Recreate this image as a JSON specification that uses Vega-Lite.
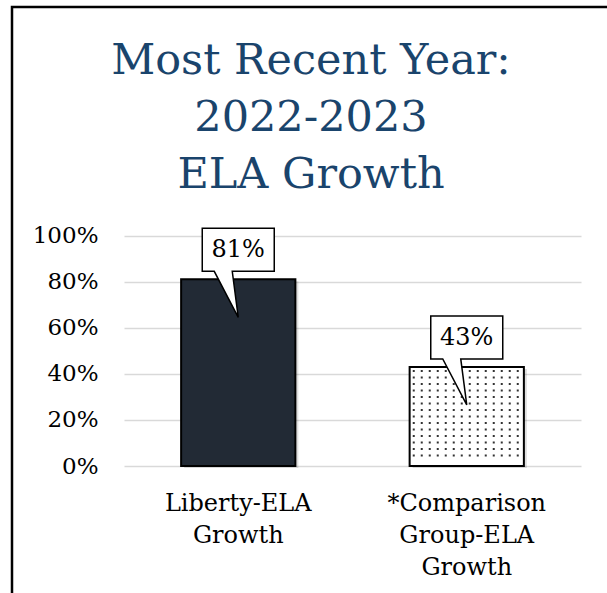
{
  "$schema": "https://vega.github.io/schema/vega-lite/v6.json",
  "autosize": {"type": "none"},
  "padding": {"left": 12, "top": 7, "right": -45, "bottom": -40},
  "width": 640,
  "height": 626,
  "background": "white",
  "view": {"stroke": "black", "strokeWidth": 2.5},
  "config": {
    "font": "DejaVu Serif"
  },
  "title": {
    "text": ["Most Recent Year:", "2022-2023", "ELA Growth"],
    "font": "DejaVu Serif",
    "fontSize": 43,
    "fontWeight": "normal",
    "color": "#1A446C",
    "lineHeight": 57,
    "anchor": "middle",
    "frame": "group",
    "dx": -21,
    "offset": -190
  },
  "data": {
    "values": [
      {"cat": "Liberty-ELA|Growth", "value": 0.81, "label": "81%"},
      {"cat": "*Comparison|Group-ELA|Growth", "value": 0.43, "label": "43%"}
    ]
  },
  "encoding": {
    "x": {
      "field": "cat", "type": "nominal", "sort": null,
      "scale": {"domain": ["Liberty-ELA|Growth", "*Comparison|Group-ELA|Growth"], "range": [112, 569], "paddingInner": 0.5, "paddingOuter": 0.25},
      "axis": {
        "title": null, "orient": "bottom", "offset": -167, "labelAngle": 0,
        "domain": false, "ticks": false, "tickSize": 0, "grid": false,
        "labelExpr": "split(datum.label, '|')",
        "labelFont": "DejaVu Serif", "labelFontSize": 24, "labelColor": "black",
        "labelLineHeight": 32, "labelPadding": 25, "labelBaseline": "top"
      }
    },
    "y": {
      "field": "value", "type": "quantitative",
      "scale": {"domain": [0, 1], "range": [459, 228.5], "nice": false, "zero": true},
      "axis": {
        "title": null, "orient": "left", "format": ".0%", "values": [0, 0.2, 0.4, 0.6, 0.8, 1],
        "domain": false, "ticks": false, "tickSize": 0,
        "grid": true, "gridColor": "#d9d9d9", "gridWidth": 1.5,
        "labelFont": "DejaVu Serif", "labelFontSize": 23, "labelColor": "black",
        "labelPadding": -86, "labelAlign": "right"
      }
    }
  },
  "layer": [
    {
      "mark": {"type": "bar", "fill": "#000000", "opacity": 0.13, "xOffset": 3, "yOffset": 2, "strokeWidth": 0}
    },
    {
      "mark": {"type": "bar", "stroke": "black", "strokeWidth": 2},
      "encoding": {
        "color": {
          "field": "cat", "type": "nominal",
          "scale": {"domain": ["Liberty-ELA|Growth", "*Comparison|Group-ELA|Growth"], "range": ["#222A35", "#FFFFFF"]},
          "legend": null
        }
      }
    },
    {
      "transform": [{"filter": "datum.value < 0.5"}],
      "mark": {
        "type": "point", "filled": true, "fill": "#333333", "strokeWidth": 0, "opacity": 1, "size": 4,
        "shape": "M-54,3h2v2h-2v-2m8,0h2v2h-2v-2m8,0h2v2h-2v-2m8,0h2v2h-2v-2m8,0h2v2h-2v-2m8,0h2v2h-2v-2m8,0h2v2h-2v-2m8,0h2v2h-2v-2m8,0h2v2h-2v-2m8,0h2v2h-2v-2m8,0h2v2h-2v-2m8,0h2v2h-2v-2m8,0h2v2h-2v-2m8,0h2v2h-2v-2m-104,6.5h2v2h-2v-2m8,0h2v2h-2v-2m8,0h2v2h-2v-2m8,0h2v2h-2v-2m8,0h2v2h-2v-2m8,0h2v2h-2v-2m8,0h2v2h-2v-2m8,0h2v2h-2v-2m8,0h2v2h-2v-2m8,0h2v2h-2v-2m8,0h2v2h-2v-2m8,0h2v2h-2v-2m8,0h2v2h-2v-2m8,0h2v2h-2v-2m-104,6.5h2v2h-2v-2m8,0h2v2h-2v-2m8,0h2v2h-2v-2m8,0h2v2h-2v-2m8,0h2v2h-2v-2m8,0h2v2h-2v-2m8,0h2v2h-2v-2m8,0h2v2h-2v-2m8,0h2v2h-2v-2m8,0h2v2h-2v-2m8,0h2v2h-2v-2m8,0h2v2h-2v-2m8,0h2v2h-2v-2m8,0h2v2h-2v-2m-104,6.5h2v2h-2v-2m8,0h2v2h-2v-2m8,0h2v2h-2v-2m8,0h2v2h-2v-2m8,0h2v2h-2v-2m8,0h2v2h-2v-2m8,0h2v2h-2v-2m8,0h2v2h-2v-2m8,0h2v2h-2v-2m8,0h2v2h-2v-2m8,0h2v2h-2v-2m8,0h2v2h-2v-2m8,0h2v2h-2v-2m8,0h2v2h-2v-2m-104,6.5h2v2h-2v-2m8,0h2v2h-2v-2m8,0h2v2h-2v-2m8,0h2v2h-2v-2m8,0h2v2h-2v-2m8,0h2v2h-2v-2m8,0h2v2h-2v-2m8,0h2v2h-2v-2m8,0h2v2h-2v-2m8,0h2v2h-2v-2m8,0h2v2h-2v-2m8,0h2v2h-2v-2m8,0h2v2h-2v-2m8,0h2v2h-2v-2m-104,6.5h2v2h-2v-2m8,0h2v2h-2v-2m8,0h2v2h-2v-2m8,0h2v2h-2v-2m8,0h2v2h-2v-2m8,0h2v2h-2v-2m8,0h2v2h-2v-2m8,0h2v2h-2v-2m8,0h2v2h-2v-2m8,0h2v2h-2v-2m8,0h2v2h-2v-2m8,0h2v2h-2v-2m8,0h2v2h-2v-2m8,0h2v2h-2v-2m-104,6.5h2v2h-2v-2m8,0h2v2h-2v-2m8,0h2v2h-2v-2m8,0h2v2h-2v-2m8,0h2v2h-2v-2m8,0h2v2h-2v-2m8,0h2v2h-2v-2m8,0h2v2h-2v-2m8,0h2v2h-2v-2m8,0h2v2h-2v-2m8,0h2v2h-2v-2m8,0h2v2h-2v-2m8,0h2v2h-2v-2m8,0h2v2h-2v-2m-104,6.5h2v2h-2v-2m8,0h2v2h-2v-2m8,0h2v2h-2v-2m8,0h2v2h-2v-2m8,0h2v2h-2v-2m8,0h2v2h-2v-2m8,0h2v2h-2v-2m8,0h2v2h-2v-2m8,0h2v2h-2v-2m8,0h2v2h-2v-2m8,0h2v2h-2v-2m8,0h2v2h-2v-2m8,0h2v2h-2v-2m8,0h2v2h-2v-2m-104,6.5h2v2h-2v-2m8,0h2v2h-2v-2m8,0h2v2h-2v-2m8,0h2v2h-2v-2m8,0h2v2h-2v-2m8,0h2v2h-2v-2m8,0h2v2h-2v-2m8,0h2v2h-2v-2m8,0h2v2h-2v-2m8,0h2v2h-2v-2m8,0h2v2h-2v-2m8,0h2v2h-2v-2m8,0h2v2h-2v-2m8,0h2v2h-2v-2m-104,6.5h2v2h-2v-2m8,0h2v2h-2v-2m8,0h2v2h-2v-2m8,0h2v2h-2v-2m8,0h2v2h-2v-2m8,0h2v2h-2v-2m8,0h2v2h-2v-2m8,0h2v2h-2v-2m8,0h2v2h-2v-2m8,0h2v2h-2v-2m8,0h2v2h-2v-2m8,0h2v2h-2v-2m8,0h2v2h-2v-2m8,0h2v2h-2v-2m-104,6.5h2v2h-2v-2m8,0h2v2h-2v-2m8,0h2v2h-2v-2m8,0h2v2h-2v-2m8,0h2v2h-2v-2m8,0h2v2h-2v-2m8,0h2v2h-2v-2m8,0h2v2h-2v-2m8,0h2v2h-2v-2m8,0h2v2h-2v-2m8,0h2v2h-2v-2m8,0h2v2h-2v-2m8,0h2v2h-2v-2m8,0h2v2h-2v-2m-104,6.5h2v2h-2v-2m8,0h2v2h-2v-2m8,0h2v2h-2v-2m8,0h2v2h-2v-2m8,0h2v2h-2v-2m8,0h2v2h-2v-2m8,0h2v2h-2v-2m8,0h2v2h-2v-2m8,0h2v2h-2v-2m8,0h2v2h-2v-2m8,0h2v2h-2v-2m8,0h2v2h-2v-2m8,0h2v2h-2v-2m8,0h2v2h-2v-2m-104,6.5h2v2h-2v-2m8,0h2v2h-2v-2m8,0h2v2h-2v-2m8,0h2v2h-2v-2m8,0h2v2h-2v-2m8,0h2v2h-2v-2m8,0h2v2h-2v-2m8,0h2v2h-2v-2m8,0h2v2h-2v-2m8,0h2v2h-2v-2m8,0h2v2h-2v-2m8,0h2v2h-2v-2m8,0h2v2h-2v-2m8,0h2v2h-2v-2m-104,6.5h2v2h-2v-2m8,0h2v2h-2v-2m8,0h2v2h-2v-2m8,0h2v2h-2v-2m8,0h2v2h-2v-2m8,0h2v2h-2v-2m8,0h2v2h-2v-2m8,0h2v2h-2v-2m8,0h2v2h-2v-2m8,0h2v2h-2v-2m8,0h2v2h-2v-2m8,0h2v2h-2v-2m8,0h2v2h-2v-2m8,0h2v2h-2v-2"
      }
    },
    {
      "mark": {
        "type": "point", "filled": true, "fill": "white", "stroke": "black", "strokeWidth": 1.5, "opacity": 1, "size": 4,
        "shape": "M-36,-51H36V-8H-6L0,38L-24,-8H-36Z"
      }
    },
    {
      "mark": {"type": "text", "dy": -29, "baseline": "middle", "align": "center", "font": "DejaVu Serif", "fontSize": 24, "color": "black"},
      "encoding": {"text": {"field": "label"}}
    }
  ]
}
